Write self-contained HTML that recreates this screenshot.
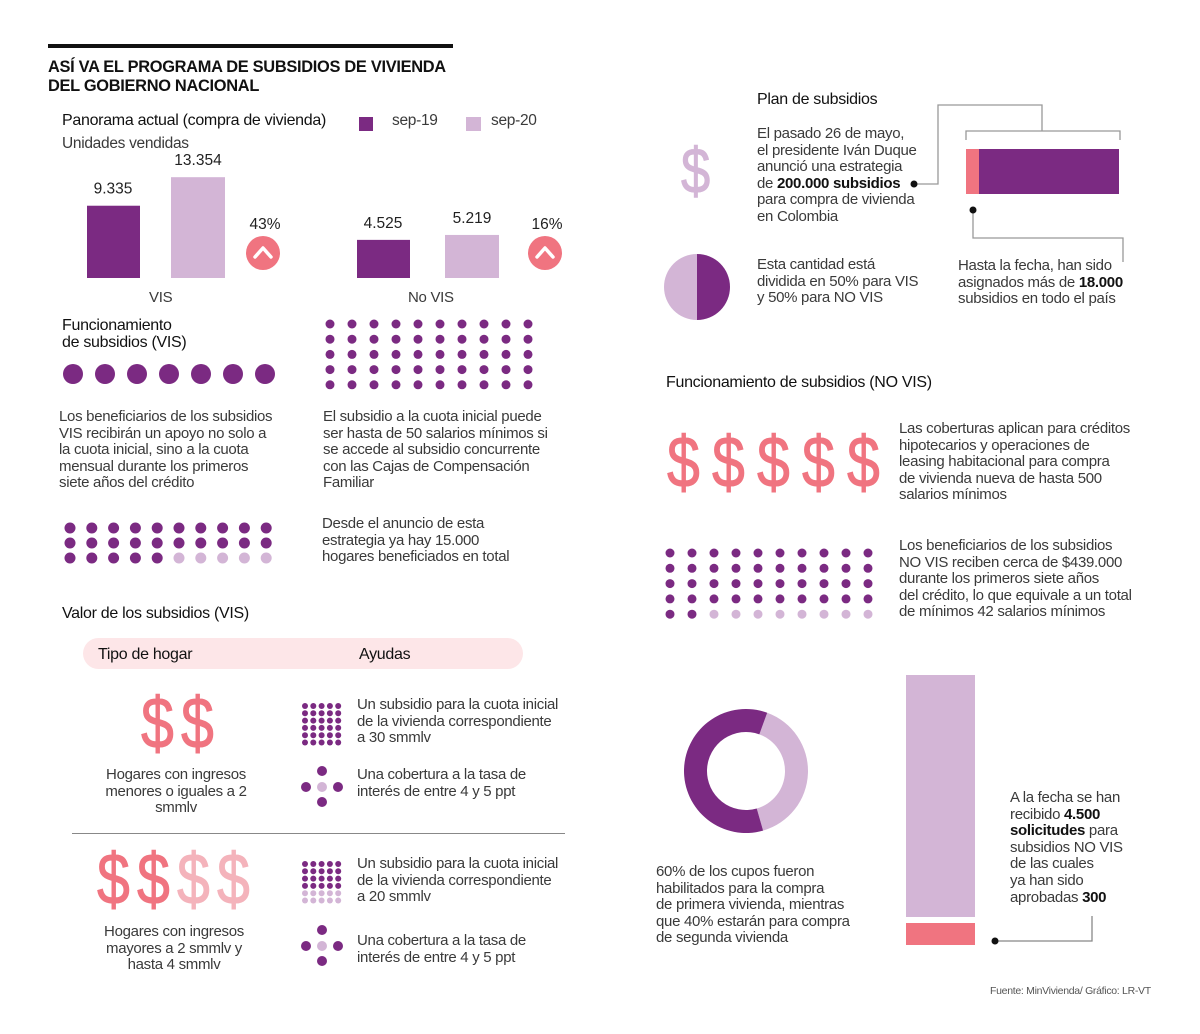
<!DOCTYPE html>
<html><head><meta charset="utf-8">
<style>
body{margin:0;width:1200px;height:1034px;background:#fff;position:relative;overflow:hidden;font-family:"Liberation Sans",sans-serif;color:#333}
.t{position:absolute;font-size:15px;line-height:16.6px;letter-spacing:-0.3px;color:#3a3a3a;white-space:nowrap}
.h{position:absolute;font-size:16px;letter-spacing:-0.3px;color:#111;white-space:nowrap}
b{font-weight:bold;color:#111}
.dol{position:absolute;font-size:72px;line-height:70px;color:#f07480;font-family:"Liberation Sans",sans-serif;-webkit-text-stroke:1px currentColor;transform:scaleX(0.82);transform-origin:left top}
</style></head><body>
<div style="position:absolute;left:48px;top:44px;width:405px;height:4px;background:#111"></div>
<div style="position:absolute;left:48px;top:58px;font-weight:bold;font-size:16.4px;line-height:19px;letter-spacing:-0.3px;color:#111">ASÍ VA EL PROGRAMA DE SUBSIDIOS DE VIVIENDA<br>DEL GOBIERNO NACIONAL</div>
<div class="h" style="left:62px;top:112px">Panorama actual (compra de vivienda)</div>
<div class="t" style="left:62px;top:136px;font-size:15.5px">Unidades vendidas</div>
<div style="position:absolute;left:359px;top:117px;width:14px;height:14px;background:#7b2a82"></div>
<div class="t" style="left:392px;top:113px;font-size:15.5px">sep-19</div>
<div style="position:absolute;left:466px;top:117px;width:15px;height:14px;background:#d3b5d6"></div>
<div class="t" style="left:491px;top:113px;font-size:15.5px">sep-20</div>

<svg id="bars" width="600" height="320" style="position:absolute;left:0;top:0"></svg>

<div class="t" style="left:149px;top:290px;font-size:15px">VIS</div>
<div class="t" style="left:408px;top:290px;font-size:15px">No VIS</div>

<div class="h" style="left:62px;top:317px;line-height:17px">Funcionamiento<br>de subsidios (VIS)</div>
<svg id="dots" width="1200" height="1034" style="position:absolute;left:0;top:0"></svg>

<div class="t" style="left:59px;top:409px">Los beneficiarios de los subsidios<br>VIS recibirán un apoyo no solo a<br>la cuota inicial, sino a la cuota<br>mensual durante los primeros<br>siete años del crédito</div>
<div class="t" style="left:323px;top:409px">El subsidio a la cuota inicial puede<br>ser hasta de 50 salarios mínimos si<br>se accede al subsidio concurrente<br>con las Cajas de Compensación<br>Familiar</div>
<div class="t" style="left:322px;top:516px">Desde el anuncio de esta<br>estrategia ya hay 15.000<br>hogares beneficiados en total</div>

<div class="h" style="left:62px;top:605px">Valor de los subsidios (VIS)</div>
<div style="position:absolute;left:83px;top:638px;width:440px;height:31px;background:#fde6e8;border-radius:16px"></div>
<div class="h" style="left:98px;top:646px">Tipo de hogar</div>
<div class="h" style="left:359px;top:646px">Ayudas</div>

<div class="dol" style="left:141px;top:689px">$</div>
<div class="dol" style="left:181px;top:689px">$</div>
<div class="t" style="left:86px;top:767px;text-align:center;width:180px">Hogares con ingresos<br>menores o iguales a 2<br>smmlv</div>
<div style="position:absolute;left:72px;top:833px;width:493px;height:1px;background:#888"></div>
<div class="dol" style="left:97px;top:845px">$</div>
<div class="dol" style="left:137px;top:845px">$</div>
<div class="dol" style="left:177px;top:845px;color:#f4b3bb">$</div>
<div class="dol" style="left:217px;top:845px;color:#f4b3bb">$</div>
<div class="t" style="left:84px;top:924px;text-align:center;width:180px">Hogares con ingresos<br>mayores a 2 smmlv y<br>hasta 4 smmlv</div>

<div class="t" style="left:357px;top:697px">Un subsidio para la cuota inicial<br>de la vivienda correspondiente<br>a 30 smmlv</div>
<div class="t" style="left:357px;top:767px">Una cobertura a la tasa de<br>interés de entre 4 y 5 ppt</div>
<div class="t" style="left:357px;top:856px">Un subsidio para la cuota inicial<br>de la vivienda correspondiente<br>a 20 smmlv</div>
<div class="t" style="left:357px;top:933px">Una cobertura a la tasa de<br>interés de entre 4 y 5 ppt</div>

<!-- right column -->
<div class="h" style="left:757px;top:91px">Plan de subsidios</div>
<div class="dol" style="left:681px;top:136px;color:#d3b5d6;font-size:64px">$</div>
<div class="t" style="left:757px;top:126px">El pasado 26 de mayo,<br>el presidente Iván Duque<br>anunció una estrategia<br>de <b>200.000 subsidios</b><br>para compra de vivienda<br>en Colombia</div>
<svg width="1200" height="340" style="position:absolute;left:0;top:0">
<polyline points="966,140 966,131 1120,131 1120,140" fill="none" stroke="#999" stroke-width="1.3"/>
<polyline points="1042,131 1042,105 938,105 938,184 914,184" fill="none" stroke="#999" stroke-width="1.3"/>
<circle cx="914" cy="184" r="3.5" fill="#111"/>
<rect x="966" y="149" width="13" height="45" fill="#f07480"/>
<rect x="979" y="149" width="140" height="45" fill="#7b2a82"/>
<polyline points="973,210 973,238 1123,238 1123,262" fill="none" stroke="#999" stroke-width="1.3"/>
<circle cx="973" cy="210" r="3.5" fill="#111"/>
<path d="M697,254 A33,33 0 0 0 697,320 Z" fill="#d3b5d6"/>
<path d="M697,254 A33,33 0 0 1 697,320 Z" fill="#7b2a82"/>
</svg>
<div class="t" style="left:757px;top:257px">Esta cantidad está<br>dividida en 50% para VIS<br>y 50% para NO VIS</div>
<div class="t" style="left:958px;top:258px">Hasta la fecha, han sido<br>asignados más de <b>18.000</b><br>subsidios en todo el país</div>

<div class="h" style="left:666px;top:374px">Funcionamiento de subsidios (NO VIS)</div>
<div class="dol" style="left:667px;top:428px">$</div>
<div class="dol" style="left:712px;top:428px">$</div>
<div class="dol" style="left:757px;top:428px">$</div>
<div class="dol" style="left:802px;top:428px">$</div>
<div class="dol" style="left:847px;top:428px">$</div>
<div class="t" style="left:899px;top:421px">Las coberturas aplican para créditos<br>hipotecarios y operaciones de<br>leasing habitacional para compra<br>de vivienda nueva de hasta 500<br>salarios mínimos</div>
<div class="t" style="left:899px;top:538px">Los beneficiarios de los subsidios<br>NO VIS reciben cerca de $439.000<br>durante los primeros siete años<br>del crédito, lo que equivale a un total<br>de mínimos 42 salarios mínimos</div>

<svg id="donut" width="1200" height="1034" style="position:absolute;left:0;top:0"></svg>
<div class="t" style="left:656px;top:864px">60% de los cupos fueron<br>habilitados para la compra<br>de primera vivienda, mientras<br>que 40% estarán para compra<br>de segunda vivienda</div>
<div class="t" style="left:1010px;top:790px">A la fecha se han<br>recibido <b>4.500</b><br><b>solicitudes</b> para<br>subsidios NO VIS<br>de las cuales<br>ya han sido<br>aprobadas <b>300</b></div>
<div class="t" style="left:990px;top:983px;font-size:10.5px;color:#555;letter-spacing:-0.3px">Fuente: MinVivienda/ Gráfico: LR-VT</div>

<script>
var NS="http://www.w3.org/2000/svg";
function mk(p,tag,a){var e=document.createElementNS(NS,tag);for(var k in a)e.setAttribute(k,a[k]);p.appendChild(e);return e;}
// bar chart data
var groups=["VIS","No VIS"];
var sep19=[9335,4525];
var sep20=[13354,5219];
var changeLabels=["43%","16%"];
var valueLabels19=["9.335","4.525"];
var valueLabels20=["13.354","5.219"];
var DARK="#7b2a82",LIGHT="#d3b5d6",PINK="#f07480";
var base=278;
function hScale(v){return 6+v*0.0071;}
var groupX=[87,357];
var bars=document.getElementById("bars");
groups.forEach(function(g,i){
  var x0=groupX[i];
  var off2=i===0?84:88, offC=i===0?176:188;
  var h1=hScale(sep19[i]),h2=hScale(sep20[i]);
  var r1=mk(bars,"rect",{x:x0,y:base-h1,width:53,height:h1,fill:DARK});
  
  
  var r2=mk(bars,"rect",{x:x0+off2,y:base-h2,width:54,height:h2,fill:LIGHT});
  
  
  var t1=mk(bars,"text",{x:x0+26,y:base-h1-12,"text-anchor":"middle","font-size":"15.5","font-family":"Liberation Sans","fill":"#222"});
  t1.textContent=valueLabels19[i];
  
  
  var t2=mk(bars,"text",{x:x0+off2+27,y:base-h2-12,"text-anchor":"middle","font-size":"15.5","font-family":"Liberation Sans","fill":"#222"});
  t2.textContent=valueLabels20[i];
  
  
  var cx=x0+offC,cy=253;
  var c=mk(bars,"circle",{cx:cx,cy:cy,r:17,fill:PINK});
  
  
  mk(bars,"polyline",{points:(cx-8)+","+(cy+4)+" "+cx+","+(cy-5)+" "+(cx+8)+","+(cy+4),fill:"none",stroke:"#fff","stroke-width":"3.5","stroke-linecap":"round","stroke-linejoin":"round"});
  var pt=mk(bars,"text",{x:cx+2,y:229,"text-anchor":"middle","font-size":"15.5","font-family":"Liberation Sans","fill":"#222"});
  pt.textContent=changeLabels[i];
  
  
});
// dot grids data
var visBigDots=7;
var cuotaDots=50;
var visHogares=[25,30];      // dark, total
var noVisSalarios=[42,50];   // dark, total
var ayuda30=[30,30];
var ayuda20=[20,30];
var dots=document.getElementById("dots");
function grid(x0,y0,cols,dx,dy,r,dark,total,name){
  for(var i=0;i<total;i++){
    var c=mk(dots,"circle",{cx:x0+(i%cols)*dx,cy:y0+Math.floor(i/cols)*dy,r:r,fill:i<dark?DARK:LIGHT});
    
    
  }
}
grid(73,374,7,32,0,10,visBigDots,visBigDots,'vis-big-dot');
grid(330,324,10,22,15.2,4.5,cuotaDots,cuotaDots,'cuota-dot');
grid(70,528,10,21.8,15,5.5,visHogares[0],visHogares[1],'hogares-dot');
grid(670,553,10,22,15.3,4.5,noVisSalarios[0],noVisSalarios[1],'salario-dot');
grid(305,706,5,8.3,7.3,3,ayuda30[0],ayuda30[1],'ayuda30-dot');
grid(305,864,5,8.3,7.3,3,ayuda20[0],ayuda20[1],'ayuda20-dot');
function cross(cx,cy){
  [[0,-16,DARK],[-16,0,DARK],[0,0,LIGHT],[16,0,DARK],[0,15,DARK]].forEach(function(p){
    var c=mk(dots,"circle",{cx:cx+p[0],cy:cy+p[1],r:5,fill:p[2]});
    
    
  });
}
cross(322,787);cross(322,946);
// donut data
var donutShares=[60,40];
var donutColors=[DARK,LIGHT];
var solicitudes=[4500,300];
var donut=document.getElementById("donut");
var dcx=746,dcy=771,R=62,r=39,start=20;
function pt(a,rad){var t=(a-90)*Math.PI/180;return [dcx+rad*Math.cos(t),dcy+rad*Math.sin(t)];}
var order=[1,0],ang=start;
order.forEach(function(k){
  var a0=ang,a1=ang+donutShares[k]*3.6;ang=a1;
  var p0=pt(a0,R),p1=pt(a1,R),q1=pt(a1,r),q0=pt(a0,r),lg=(a1-a0)>180?1:0;
  var d="M"+p0+" A"+R+","+R+" 0 "+lg+" 1 "+p1+" L"+q1+" A"+r+","+r+" 0 "+lg+" 0 "+q0+" Z";
  var e=mk(donut,"path",{d:d,fill:donutColors[k]});
  
  
});
// tall solicitudes bar
var top0=675,bot=945,gap=6;
var totalH=bot-top0-gap;
var pinkH=Math.max(22,totalH*solicitudes[1]/solicitudes[0]);
var lb=mk(donut,"rect",{x:906,y:top0,width:69,height:totalH-pinkH,fill:LIGHT});


var pb=mk(donut,"rect",{x:906,y:bot-pinkH,width:69,height:pinkH,fill:PINK});


mk(donut,"polyline",{points:"995,941 1092,941 1092,916",fill:"none",stroke:"#888","stroke-width":"1.3"});
mk(donut,"circle",{cx:995,cy:941,r:3.5,fill:"#111"});
</script>
</body></html>
